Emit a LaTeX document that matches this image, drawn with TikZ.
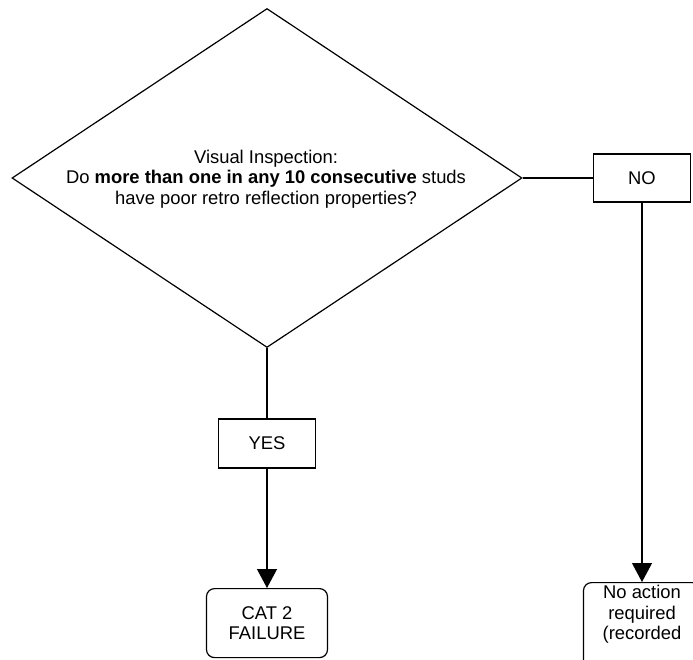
\documentclass[tikz,border=0pt]{standalone}
\usepackage{fontspec}
\setmainfont{Liberation Sans}
\usetikzlibrary{shapes.geometric,arrows.meta}
\begin{document}
\begin{tikzpicture}[x=1pt,y=-1pt,
  every node/.style={font=\fontsize{18.4}{20.5}\selectfont, align=center},
  box/.style={draw, line width=1.2pt, rectangle, inner sep=0pt},
  endbox/.style={draw, line width=1.2pt, rectangle, rounded corners=8pt, inner sep=0pt, anchor=north},
  conn/.style={line width=1.2pt},
  arr/.style={conn, -{Triangle[length=19pt,width=20pt]}}]
\useasboundingbox (0,0) rectangle (693,659);
\clip (0,0) rectangle (693,659);
\node[diamond, draw, line width=1.2pt, minimum width=510pt, minimum height=339pt, inner sep=0pt] (d) at (267,178) {};
\node (q) at (266,179) {Visual Inspection:\\Do \textbf{more than one in any 10 consecutive} studs\\have poor retro reflection properties?};
\node[box, minimum width=97pt, minimum height=48pt] (no) at (642,178) {NO};
\node[box, minimum width=97pt, minimum height=49pt] (yes) at (267,443.5) {YES};
\node[endbox, minimum width=121pt, minimum height=69pt] (cat) at (267,588) {CAT 2\\FAILURE};
\node[endbox, minimum width=117pt, minimum height=110pt, text depth=50pt] (na) at (642,582) {No action\\required\\(recorded};
\draw[conn] (d.east) -- (no.west);
\draw[conn] (d.south) -- (yes.north);
\draw[arr] (yes.south) -- (cat.north);
\draw[arr] (no.south) -- (na.north);
\end{tikzpicture}
\end{document}
